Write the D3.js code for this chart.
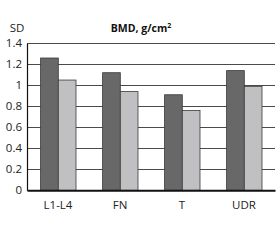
<!DOCTYPE html>
<html><head><meta charset="utf-8">
<script src="https://cdn.jsdelivr.net/npm/d3@7"></script>
<style>body{margin:0;background:#fff}svg{display:block}</style>
</head><body>
<svg id="c" width="280" height="240"></svg>
<script>
const categories = ["L1-L4", "FN", "T", "UDR"];
const seriesNames = ["A", "B"];
const seriesDark = [1.26, 1.12, 0.91, 1.14];
const seriesLight = [1.05, 0.94, 0.76, 0.99];
const yTicks = [0, 0.2, 0.4, 0.6, 0.8, 1, 1.2, 1.4];
const yTickLabels = ["0", "0.2", "0.4", "0.6", "0.8", "1", "1.2", "1.4"];
const colors = ["#686868", "#c0c0c2"];

(function () {
const svg = d3.select("#c");
const font = "'Open Sans', 'Liberation Sans', sans-serif";
const mLeft = 27, mRight = 275, mTop = 43.3, mBottom = 190.3;

const x = d3.scaleBand().domain(categories).range([mLeft, mRight]).paddingInner(0).paddingOuter(0);
const x1 = d3.scaleBand().domain(seriesNames).range([13.6, 49]);
const y = d3.scaleLinear().domain([0, 1.4]).range([mBottom, mTop]);

// gridlines
svg.append("g").selectAll("line").data(yTicks.filter(d => d > 0)).join("line")
  .attr("x1", mLeft).attr("x2", mRight)
  .attr("y1", d => Math.round(y(d)) + 0.5).attr("y2", d => Math.round(y(d)) + 0.5)
  .attr("stroke", "#4a4a4a").attr("stroke-width", 1);

// bars
const data = categories.map((c, i) => ({c, vals: [seriesDark[i], seriesLight[i]]}));
const g = svg.append("g").selectAll("g").data(data).join("g")
  .attr("transform", d => `translate(${x(d.c)},0)`);
g.selectAll("rect").data(d => d.vals.map((v, k) => ({k, v}))).join("rect")
  .attr("x", d => x1(seriesNames[d.k]))
  .attr("width", x1.bandwidth())
  .attr("y", d => y(d.v))
  .attr("height", d => mBottom - y(d.v))
  .attr("fill", d => colors[d.k])
  .attr("stroke", "#3a3a3a").attr("stroke-width", 0.8);

// left axis
const yAxis = d3.axisLeft(y).tickValues(yTicks).tickFormat((d, i) => yTickLabels[i]).tickSize(0).tickPadding(5);
const ya = svg.append("g").attr("transform", `translate(${mLeft},0)`).call(yAxis);
ya.select(".domain").attr("stroke", "#111").attr("stroke-width", 1.2);
ya.selectAll("text").attr("font-family", font).attr("font-size", 11.5).attr("fill", "#222");

// bottom axis
const xAxis = d3.axisBottom(x).tickSize(0).tickPadding(11);
const xa = svg.append("g").attr("transform", `translate(0,${mBottom})`).call(xAxis);
xa.select(".domain").attr("stroke", "#111").attr("stroke-width", 2);
xa.selectAll("text").attr("font-family", font).attr("font-size", 11.5).attr("fill", "#222");

svg.append("text").attr("x", 17).attr("y", 32).attr("text-anchor", "middle")
  .attr("font-family", font).attr("font-size", 11.5).attr("fill", "#222").text("SD");
const t = svg.append("text").attr("x", 141).attr("y", 32).attr("text-anchor", "middle")
  .attr("font-family", font).attr("font-size", 10.5).attr("font-weight", "bold").attr("fill", "#111");
t.append("tspan").text("BMD, g/cm");
t.append("tspan").attr("font-size", 7).attr("dy", -4).text("2");
})();
</script>
</body></html>
